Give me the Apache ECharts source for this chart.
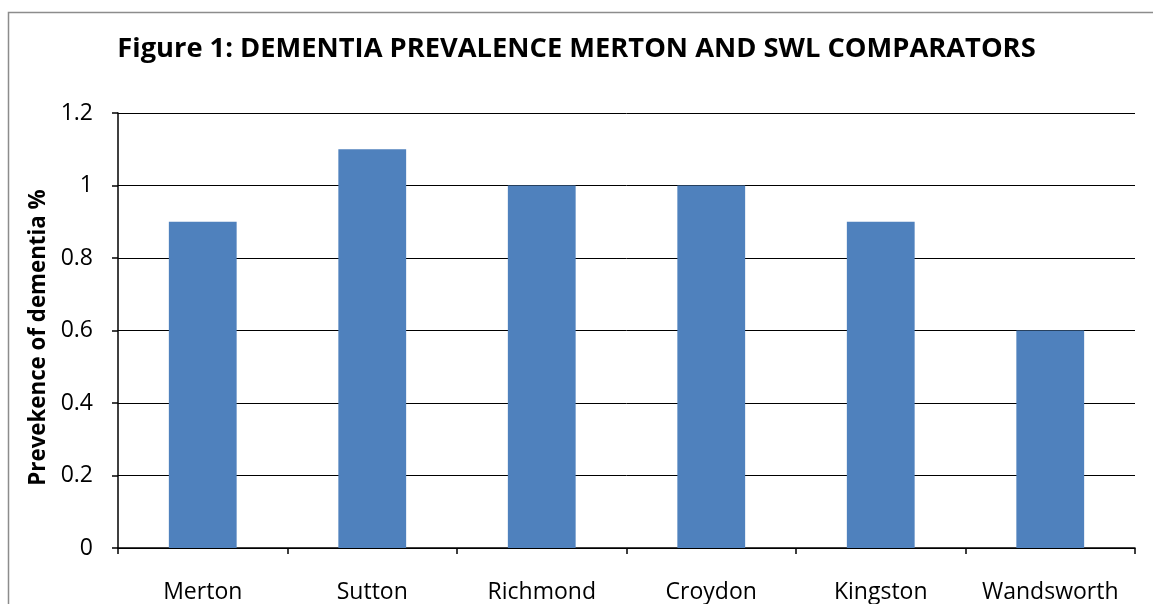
<!DOCTYPE html>
<html><head><meta charset="utf-8">
<script src="https://cdn.jsdelivr.net/npm/echarts@6/dist/echarts.min.js"></script>
<style>html,body{margin:0;padding:0;background:#fff}#c{width:1153px;height:604px}</style>
</head><body><div id="c"></div>
<script>
const categories = ['Merton','Sutton','Richmond','Croydon','Kingston','Wandsworth'];
const values = [0.9, 1.1, 1.0, 1.0, 0.9, 0.6];
const yTicks = ['0','0.2','0.4','0.6','0.8','1','1.2'];
const titleText = 'Figure 1: DEMENTIA PREVALENCE MERTON AND SWL COMPARATORS';
const yName = 'Prevekence of dementia %';

const chart = echarts.init(document.getElementById('c'), null, {renderer:'canvas'});
const font = '"Open Sans", "Noto Sans", sans-serif';
chart.setOption({
  animation:false,
  backgroundColor:'#fff',
  graphic:[{type:'rect', shape:{x:8.5,y:12.5,width:1200,height:700}, style:{fill:'none',stroke:'#8c8c8c',lineWidth:1.5}, z:-1}],
  title:{text:titleText, left:'center', top:31, textStyle:{fontFamily:font, fontWeight:'bold', fontSize:27.3, color:'#000'}},
  grid:{left:118, right:18, top:113, bottom:55, containLabel:false},
  xAxis:{type:'category', data:categories,
    axisLine:{lineStyle:{color:'#000', width:1.5}},
    axisTick:{show:true, interval:0, length:6, lineStyle:{color:'#000', width:1.5}},
    axisLabel:{interval:0, hideOverlap:false, fontFamily:font, fontSize:23, color:'#000', margin:33}},
  yAxis:{type:'value', min:0, max:1.2, interval:0.2,
    name:yName, nameLocation:'middle', nameGap:66, nameRotate:90,
    nameTextStyle:{fontFamily:font, fontWeight:'bold', fontSize:22.3, color:'#000', padding:[0,14,0,0]},
    axisLine:{show:true, lineStyle:{color:'#000', width:1.5}},
    axisTick:{show:true, length:6, lineStyle:{color:'#000', width:1.5}},
    splitLine:{lineStyle:{color:'#000', width:1}},
    axisLabel:{fontFamily:font, fontSize:23, color:'#000', margin:25,
      formatter:(v)=>yTicks[Math.round(v/0.2)]}},
  series:[{type:'bar', data:values, barWidth:'40%', itemStyle:{color:'#4F81BD'}}]
});
</script></body></html>
